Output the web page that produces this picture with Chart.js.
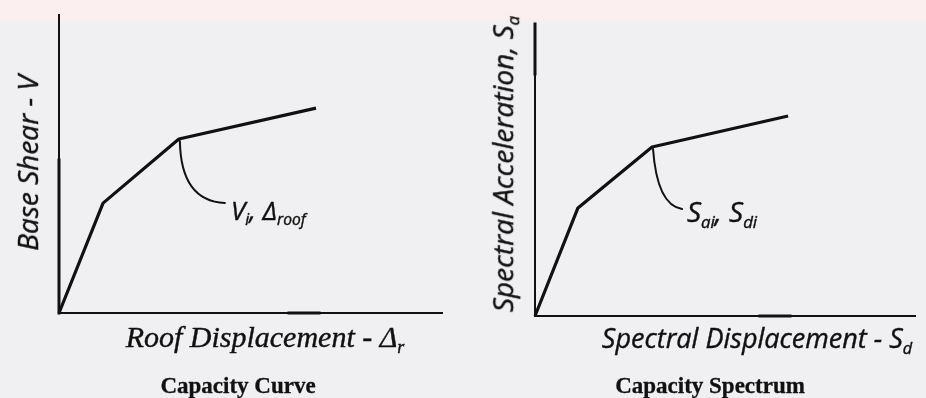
<!DOCTYPE html>
<html>
<head>
<meta charset="utf-8">
<script src="https://cdn.jsdelivr.net/npm/chart.js@4.4.1/dist/chart.umd.min.js"></script>
<style>
  html, body { margin: 0; padding: 0; }
  body {
    width: 926px; height: 398px; position: relative; overflow: hidden;
    background: linear-gradient(to bottom, #fcefef 0px, #fbeeee 18px, #f0f0f2 24px, #f0f0f2 100%);
  }
  canvas { position: absolute; top: 0; }
  #curve { left: 0; }
  #spectrum { left: 463px; }
  .lbl { position: absolute; white-space: nowrap; color: #111; line-height: 1; -webkit-text-stroke: 0.4px #111; }
  .serif { font-family: "Liberation Serif", "DejaVu Serif", serif; font-style: italic; }
  .sans { font-family: "Open Sans", "DejaVu Sans", sans-serif; font-style: italic; }
  .rot { transform: translate(-50%, -50%) rotate(-90deg); }
  .mid { transform: translate(-50%, -50%); }
  .cap { font-family: "Liberation Serif", serif; font-weight: bold; font-size: 23px; -webkit-text-stroke: 0.3px #111; }
  sub { font-size: 0.6em; vertical-align: -0.35em; }
</style>
</head>
<body>
<canvas id="curve" width="463" height="398"></canvas>
<canvas id="spectrum" width="463" height="398"></canvas>

<div class="lbl sans rot" style="left:27px; top:163px; font-size:28px;">Base Shear - V</div>
<div class="lbl serif mid" style="left:265px; top:339px; font-size:30px;">Roof Displacement - Δ<sub>r</sub></div>
<div class="lbl cap mid" style="left:238px; top:385px;">Capacity Curve</div>
<div class="lbl sans" style="left:231px; top:197px; font-size:26px;">V<sub>i</sub>, Δ<sub>roof</sub></div>

<div class="lbl sans rot" style="left:505px; top:164px; font-size:28px;">Spectral Acceleration, S<sub>a</sub></div>
<div class="lbl sans mid" style="left:757px; top:340px; font-size:27px;">Spectral Displacement - S<sub>d</sub></div>
<div class="lbl cap mid" style="left:710px; top:385px;">Capacity Spectrum</div>
<div class="lbl sans" style="left:687px; top:197px; font-size:28px;">S<sub>ai</sub>, S<sub>di</sub></div>

<script>
// Pushover capacity curve: roof displacement vs base shear
const curveDisp = [0, 1.15, 3.13, 6.71];
const curveShear = [0, 2.95, 4.67, 5.50];

// Same curve converted to ADRS format: Sd vs Sa
const spectrumSd = [0, 1.13, 3.08, 6.66];
const spectrumSa = [0, 2.96, 4.63, 5.48];

// index of the point the leader line is hooked to
const markedIndex = 2;

const axisMax = { x: 10, y: 8 };

// Draws the two axis lines and the curved leader to the marked point
const axesPlugin = {
  id: "axesAndLeader",
  afterDatasetsDraw(chart, args, opts) {
    const { ctx, chartArea: a, scales } = chart;
    ctx.save();
    ctx.strokeStyle = "#111";
    ctx.lineCap = "square";

    ctx.lineWidth = 2;
    ctx.beginPath();
    ctx.moveTo(a.left, a.top);
    ctx.lineTo(a.left, a.bottom);
    ctx.lineTo(a.right, a.bottom);
    ctx.stroke();

    // heavier stretches on the axes
    ctx.lineWidth = 3;
    ctx.beginPath();
    ctx.moveTo(a.left, a.top + opts.yHeavy[0]);
    ctx.lineTo(a.left, a.top + opts.yHeavy[1]);
    ctx.moveTo(a.left + opts.xHeavy[0], a.bottom);
    ctx.lineTo(a.left + opts.xHeavy[1], a.bottom);
    ctx.stroke();

    const pts = chart.data.datasets[0].data;
    const p = pts[markedIndex];
    const px = scales.x.getPixelForValue(p.x);
    const py = scales.y.getPixelForValue(p.y);
    ctx.lineWidth = 2;
    ctx.lineCap = "round";
    ctx.beginPath();
    ctx.moveTo(px + 1, py + 2);
    ctx.quadraticCurveTo(px + opts.leader[0], py + opts.leader[1], px + opts.leader[2], py + opts.leader[3]);
    ctx.stroke();
    ctx.restore();
  }
};

function makeChart(id, xs, ys, padding, plugOpts) {
  const data = xs.map((x, i) => ({ x, y: ys[i] }));
  return new Chart(document.getElementById(id), {
    type: "scatter",
    data: {
      datasets: [{
        data,
        showLine: true,
        borderColor: "#111",
        borderWidth: 3.2,
        borderJoinStyle: "round",
        pointRadius: 0,
        clip: false
      }]
    },
    options: {
      responsive: false,
      animation: false,
      layout: { padding },
      plugins: {
        legend: { display: false },
        tooltip: { enabled: false },
        axesAndLeader: plugOpts
      },
      scales: {
        x: { type: "linear", display: false, min: 0, max: axisMax.x },
        y: { type: "linear", display: false, min: 0, max: axisMax.y }
      }
    },
    plugins: [axesPlugin]
  });
}

makeChart("curve", curveDisp, curveShear,
  { left: 59, right: 21, top: 15, bottom: 85 },
  { yHeavy: [145, 298], xHeavy: [230, 260], leader: [2, 62, 46, 64] });

makeChart("spectrum", spectrumSd, spectrumSa,
  { left: 72, right: 11, top: 24, bottom: 82 },
  { yHeavy: [0, 50], xHeavy: [225, 255], leader: [5, 58, 30, 62] });
</script>
</body>
</html>
